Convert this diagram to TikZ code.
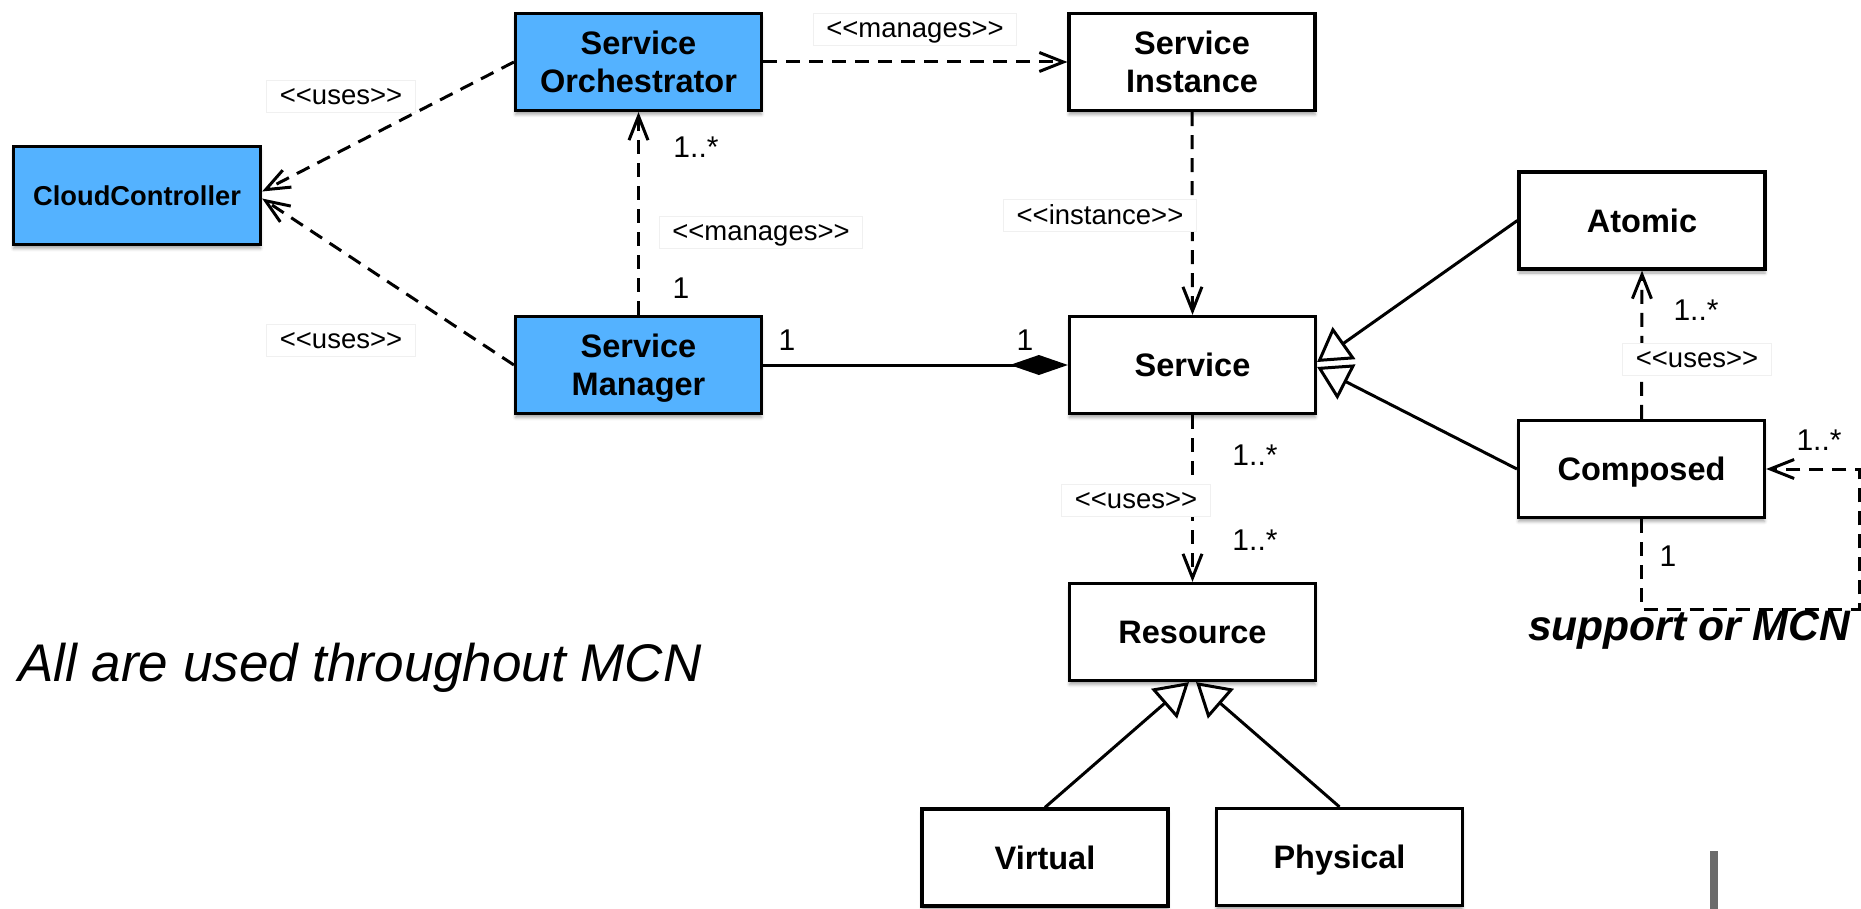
\documentclass[tikz,border=0pt]{standalone}
\usepackage{fontspec}
\setmainfont{Liberation Sans}
\usetikzlibrary{arrows.meta,shadows.blur}
\definecolor{boxblue}{RGB}{84,178,255}
\newcommand{\stereo}[1]{<\kern0pt<#1>\kern0pt>}
\begin{document}
\begin{tikzpicture}[x=1pt,y=-1pt,
  cls/.style={draw=black, line width=3.2pt, minimum width=246pt, minimum height=97pt,
    inner sep=0pt, align=center, text depth=0pt, fill=white,
    font=\bfseries\fontsize{32.5}{38}\selectfont,
    blur shadow={shadow xshift=0pt, shadow yshift=-4pt, shadow blur radius=3pt, shadow opacity=35}},
  bluebox/.style={fill=boxblue},
  dep/.style={line width=3pt, dash pattern=on 14pt off 9pt,
    -{Straight Barb[length=24pt,width=19pt]}},
  gen/.style={line width=3pt, -{Triangle[fill=white,length=33pt,width=39pt]}},
  comp/.style={line width=3pt, -{Diamond[length=58pt,width=20pt]}},
  mult/.style={font=\fontsize{30}{32}\selectfont, inner sep=0pt},
  lbl/.style={fill=white, draw=black!6, line width=0.8pt, text depth=0pt,
    font=\fontsize{27.5}{30}\selectfont, inner xsep=13pt, inner ysep=0pt, minimum height=32pt}
]
\useasboundingbox (0,0) rectangle (1861,909);

% classes
\node[cls, bluebox, minimum width=247pt, minimum height=98pt,
      font=\bfseries\fontsize{27.3}{32}\selectfont] (cc) at (137,195.5) {CloudController};
\node[cls, bluebox] (so) at (638.5,62) {Service\\Orchestrator};
\node[cls] (si) at (1192,62) {Service\\Instance};
\node[cls, bluebox] (sm) at (638.5,365) {Service\\Manager};
\node[cls] (service) at (1192.5,365) {Service};
\node[cls] (atomic) at (1642,220.5) {Atomic};
\node[cls] (composed) at (1641.5,469) {Composed};
\node[cls] (resource) at (1192.5,632) {Resource};
\node[cls] (virtual) at (1045,857.5) {Virtual};
\node[cls] (physical) at (1339.5,857) {Physical};

% loop corners
\coordinate (lp1) at (1641.5,609);
\coordinate (lp2) at (1859,609);
\coordinate (lp3) at (1859,469);

% connectors
\draw[dep] (so.west) -- ([yshift=4pt]cc.east);
\draw[dep] (sm.west) -- ([yshift=-3pt]cc.east);
\draw[dep] (sm.north) -- (so.south);
\draw[dep] (so.east) -- (si.west);
\draw[dep] (si.south) -- (service.north);
\draw[comp] (sm.east) -- (service.west);
\draw[gen] (atomic.west) -- ([yshift=3pt]service.east);
\draw[gen] (composed.west) -- ([yshift=-2pt]service.east);
\draw[dep] (composed.north) -- (atomic.south);
\draw[dep] (composed.south) -- (lp1) -- (lp2) -- (lp3) -- (composed.east);
\draw[dep] (service.south) -- (resource.north);
\draw[gen] (virtual.north) -- ([xshift=-3.5pt]resource.south);
\draw[gen] (physical.north) -- ([xshift=3.5pt]resource.south);

% stereotype labels
\node[lbl] (l1) at (341,96) {\stereo{uses}};
\node[lbl] (l2) at (341,340) {\stereo{uses}};
\node[lbl] (l3) at (915,29) {\stereo{manages}};
\node[lbl] (l4) at (761,232) {\stereo{manages}};
\node[lbl] (l5) at (1100,215) {\stereo{instance}};
\node[lbl] (l6) at (1136,500) {\stereo{uses}};
\node[lbl] (l7) at (1697,359) {\stereo{uses}};

% multiplicities
\node[mult] (m1) at (696,147) {1..*};
\node[mult] (m2) at (681,288) {1};
\node[mult] (m3) at (787,340) {1};
\node[mult] (m4) at (1025,340) {1};
\node[mult] (m5) at (1255,455) {1..*};
\node[mult] (m6) at (1255,540) {1..*};
\node[mult] (m7) at (1696,310) {1..*};
\node[mult] (m8) at (1668,556) {1};
\node[mult] (m9) at (1819,440) {1..*};

% free texts
\node[anchor=base west, inner sep=0pt, font=\itshape\fontsize{53}{60}\selectfont]
  (note) at (18,681) {All are used throughout MCN};
\node[anchor=base, inner sep=0pt, font=\bfseries\itshape\fontsize{42.6}{48}\selectfont]
  (support) at (1689,640) {support or MCN};

% grey bar
\fill[black!58] (1710,851) rectangle (1718,909);
\end{tikzpicture}
\end{document}
